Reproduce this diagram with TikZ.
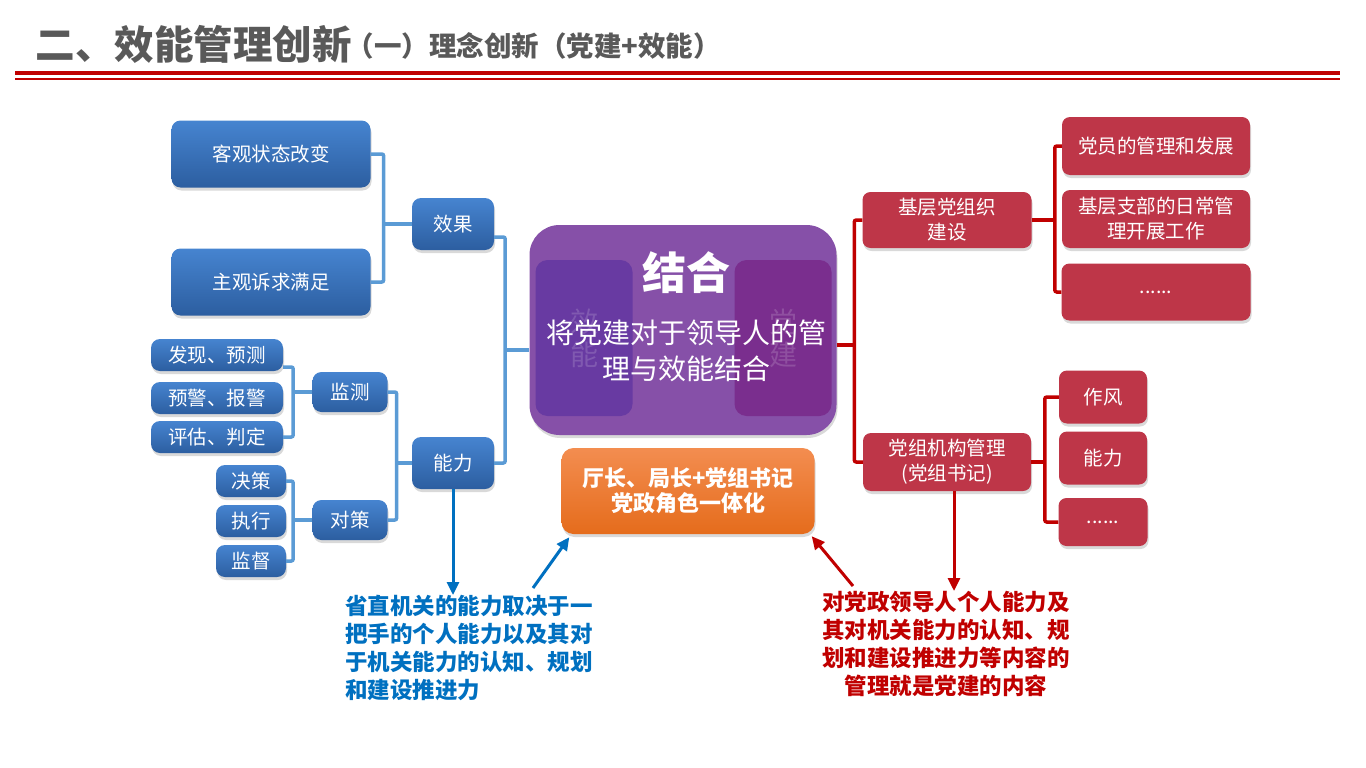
\documentclass[tikz,border=0pt]{standalone}
\usepackage{fontspec}
\setmainfont{Noto Sans CJK SC}
\usetikzlibrary{positioning,shadows,arrows.meta}

\definecolor{blueT}{RGB}{70,132,208}
\definecolor{blueB}{RGB}{44,94,160}
\definecolor{lblue}{RGB}{91,155,213}
\definecolor{arrblue}{RGB}{0,112,192}
\definecolor{crim}{RGB}{190,54,72}
\definecolor{dred}{RGB}{192,0,0}
\definecolor{purp}{RGB}{134,80,168}
\definecolor{purpL}{RGB}{104,58,162}
\definecolor{purpR}{RGB}{122,46,142}
\definecolor{orT}{RGB}{243,141,80}
\definecolor{orB}{RGB}{229,108,28}
\definecolor{titlegray}{RGB}{89,89,89}

\begin{document}
\begin{tikzpicture}[x=1pt,y=-1pt,node distance=40pt,on grid,
  shd/.style={drop shadow={shadow xshift=1pt,shadow yshift=-3pt,opacity=.3}},
  bbox/.style={rectangle,rounded corners=9pt,top color=blueT,bottom color=blueB,text=white,inner sep=2pt,font=\fontsize{19.5}{23}\selectfont,shd},
  rbox/.style={rectangle,rounded corners=8pt,fill=crim,text=white,inner sep=2pt,align=center,font=\fontsize{19.5}{25}\selectfont,shd},
  ghost/.style={text=white,text opacity=.16,align=center,font=\fontsize{28}{33}\selectfont},
  bline/.style={line width=3.5pt,color=lblue,rounded corners=2pt},
  rline/.style={line width=3.5pt,color=dred,rounded corners=2pt},
  barrow/.style={line width=3pt,color=arrblue,-{Triangle[length=13pt,width=12pt]}},
  rarrow/.style={line width=3pt,color=dred,-{Triangle[length=13pt,width=12pt]}},
  note/.style={inner sep=0pt,font=\fontsize{22.5}{28}\selectfont\bfseries}]

\useasboundingbox (0,0) rectangle (1366,768);

% title
\node[anchor=west,text=titlegray,font=\fontsize{39.5}{44}\selectfont\bfseries] (ttl) at (32,44) {二、效能管理创新};
\node[anchor=west,text=titlegray,font=\fontsize{27.5}{32}\selectfont\bfseries] (subttl) at (343,46) {（一）理念创新（党建+效能）};
\draw[dred,line width=4.5pt] (15,73) -- (1340,73);
\draw[dred,line width=1.2pt] (15,79) -- (1340,79);

% left side
\node[bbox,minimum width=199pt,minimum height=67pt] (kgzt) at (271,154) {客观状态改变};
\node[bbox,minimum width=199pt,minimum height=67pt] (zgsq) [below=128pt of kgzt] {主观诉求满足};
\node[bbox,minimum width=82pt,minimum height=52pt] (xg) at (453,224) {效果};
\node[bbox,minimum width=82pt,minimum height=52pt] (nl) [below=239pt of xg] {能力};
\node[bbox,minimum width=75pt,minimum height=40pt] (jc) at (350,392) {监测};
\node[bbox,minimum width=75pt,minimum height=40pt] (dc) [below=128pt of jc] {对策};
\node[bbox,minimum width=132pt,minimum height=32pt] (fxyc) at (217,355) {发现、预测};
\node[bbox,minimum width=132pt,minimum height=32pt] (yjbj) [below=43pt of fxyc] {预警、报警};
\node[bbox,minimum width=132pt,minimum height=32pt] (pgpd) [below=39pt of yjbj] {评估、判定};
\node[bbox,minimum width=70pt,minimum height=32pt] (jcc) at (251,481) {决策};
\node[bbox,minimum width=70pt,minimum height=32pt] (zx) [below=40pt of jcc] {执行};
\node[bbox,minimum width=70pt,minimum height=32pt] (jd) [below=40pt of zx] {监督};

\draw[bline] (kgzt.east) -- ++(13pt,0) coordinate (b1) |- (zgsq.east);
\draw[bline] (b1 |- xg.west) -- (xg.west);
\draw[bline] ([yshift=-12pt]fxyc.east) -- ++(10pt,0) coordinate (b3) |- (pgpd.east);
\draw[bline] (b3 |- jc.west) -- (jc.west);
\draw[bline] (jcc.east) -- ++(7pt,0) coordinate (b4) |- (jd.east);
\draw[bline] (b4 |- dc.west) -- (dc.west);
\draw[bline] (jc.east) -- ++(9pt,0) coordinate (b5) |- (dc.east);
\draw[bline] (b5 |- nl.west) -- (nl.west);

% centre
\node[rectangle,rounded corners=30pt,fill=purp,minimum width=307pt,minimum height=210pt,shd] (jh) at (683,330) {};
\node[rectangle,rounded corners=12pt,fill=purpL,minimum width=97pt,minimum height=156pt] (xnk) at (584,338) {};
\node[rectangle,rounded corners=12pt,fill=purpR,minimum width=97pt,minimum height=156pt] (djk) at (783,338) {};
\node[ghost] (xnt) at (xnk) {效\\能};
\node[ghost] (djt) at (djk) {党\\建};
\node[text=white,font=\fontsize{44}{48}\selectfont\bfseries] (jht) at (686,273) {结合};
\node[text=white,align=center,font=\fontsize{28}{36}\selectfont] (jhs) at (686,351) {将党建对于领导人的管\\理与效能结合};
\coordinate (jhw) at ([yshift=-20pt]jh.west);
\coordinate (jhe) at ([yshift=-15pt]jh.east);

\draw[bline] ([yshift=-13pt]xg.east) -- ++(11pt,0) coordinate (b2) |- (nl.east);
\draw[bline] (b2 |- jhw) -- (jhw);

\node[rectangle,rounded corners=12pt,top color=orT,bottom color=orB,text=white,align=center,minimum width=253pt,minimum height=86pt,font=\fontsize{22}{25}\selectfont\bfseries,shd] (og) at (688,491) {厅长、局长+党组书记\\党政角色一体化};

% right side
\node[rbox,minimum width=169pt,minimum height=56pt] (jcdz) at (947,220) {基层党组织\\建设};
\node[rbox,minimum width=168pt,minimum height=58pt] (dzjg) [below=242pt of jcdz] {党组机构管理\\(党组书记)};
\node[rbox,minimum width=188pt,minimum height=58pt] (dy) at (1156,146) {党员的管理和发展};
\node[rbox,minimum width=188pt,minimum height=58pt] (zb) [below=73pt of dy] {基层支部的日常管\\理开展工作};
\node[rbox,minimum width=189pt,minimum height=57pt] (dots1) [below=73pt of zb] {......};
\node[rbox,minimum width=88pt,minimum height=53pt] (zf) at (1103,397) {作风};
\node[rbox,minimum width=88pt,minimum height=53pt] (nl2) [below=61pt of zf] {能力};
\node[rbox,minimum width=89pt,minimum height=48pt] (dots2) [below=64pt of nl2] {......};

\draw[rline] (jcdz.west) -- ++(-8pt,0) coordinate (r1) |- (dzjg.west);
\draw[rline] (jhe) -- (r1 |- jhe);
\draw[rline] (dy.west) -- ++(-7pt,0) coordinate (r2) |- (dots1.west);
\draw[rline] (jcdz.east) -- (r2 |- jcdz.east);
\draw[rline] (zf.west) -- ++(-14pt,0) coordinate (r3) |- (dots2.west);
\draw[rline] (dzjg.east) -- (r3 |- dzjg.east);

% notes
\node[note,anchor=north west,align=left,text=arrblue] (bt) at (345,595) {省直机关的能力取决于一\\把手的个人能力以及其对\\于机关能力的认知、规划\\和建设推进力};
\node[note,anchor=north,align=center,text=dred] (rt) at (946,591) {对党政领导人个人能力及\\其对机关能力的认知、规\\划和建设推进力等内容的\\管理就是党建的内容};

\coordinate (ba) at (533,588);
\coordinate (ra) at (853,586);
\draw[barrow] (nl.south) -- (nl.south |- bt.north);
\draw[barrow] (ba) -- ([xshift=8pt,yshift=-3pt]og.south west);
\draw[rarrow] (ra) -- ([xshift=-3pt,yshift=-2pt]og.south east);
\draw[rarrow] ([xshift=7pt]dzjg.south) -- ([xshift=7pt]dzjg.south |- rt.north);

\end{tikzpicture}
\end{document}
